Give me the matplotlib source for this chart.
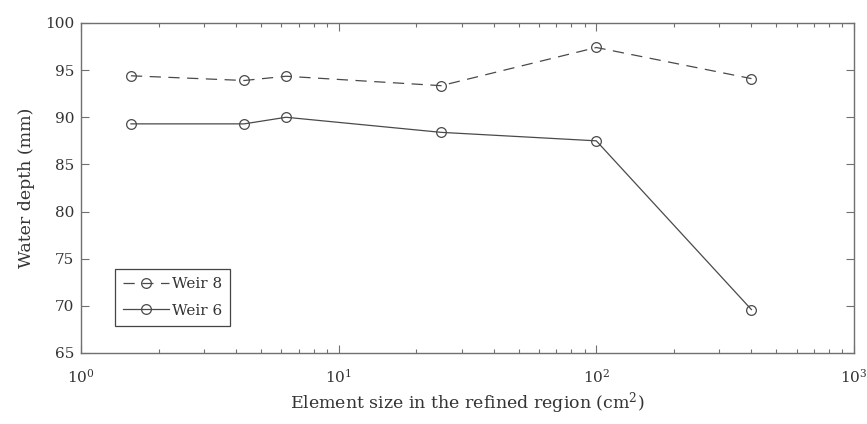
import numpy as np
import matplotlib.pyplot as plt

plt.rcParams['font.family'] = 'serif'
plt.rcParams['font.serif'] = ['DejaVu Serif']
plt.rcParams['mathtext.fontset'] = 'dejavuserif'
plt.rcParams['font.size'] = 11

# element size (cm^2) and water depth (mm)
element_size = [1.5625, 4.3, 6.25, 25, 100, 400]
weir8 = [94.4, 93.9, 94.35, 93.35, 97.4, 94.1]
weir6 = [89.3, 89.3, 90.0, 88.4, 87.5, 69.6]

line_col = '#4a4a4a'
axis_col = '#707070'
text_col = '#333333'

fig = plt.figure(figsize=(8.67, 4.24), dpi=100)
ax = fig.add_axes([0.0934, 0.1675, 0.8916, 0.7783])

ax.plot(element_size, weir8, color=line_col, lw=0.9, ls=(0, (9, 6)),
        marker='o', ms=7, mfc='none', mec=line_col, mew=0.9, label='Weir 8')
ax.plot(element_size, weir6, color=line_col, lw=0.9, ls='-',
        marker='o', ms=7, mfc='none', mec=line_col, mew=0.9, label='Weir 6')

ax.set_xscale('log')
ax.set_xlim(1, 1000)
ax.set_ylim(65, 100)
ax.set_yticks(np.arange(65, 101, 5))

ax.tick_params(which='both', direction='in', top=True, right=True,
               color=axis_col, labelcolor=text_col)
ax.tick_params(which='major', length=6, width=0.8)
ax.tick_params(which='minor', length=3, width=0.8)
ax.tick_params(axis='x', which='major', pad=11)
ax.tick_params(axis='y', which='major', pad=5)
for sp in ax.spines.values():
    sp.set_color(axis_col)
    sp.set_linewidth(1.0)

ax.set_xlabel('Element size in the refined region (cm$^2$)', color=text_col,
              fontsize=12.5, labelpad=3)
ax.set_ylabel('Water depth (mm)', color=text_col, fontsize=12.5, labelpad=7)

leg = ax.legend(loc='lower left', bbox_to_anchor=(0.044, 0.082), fancybox=False,
                edgecolor='#444444', framealpha=1, handlelength=3.0,
                handletextpad=0.15, borderpad=0.55, labelspacing=0.8,
                borderaxespad=0)
leg.get_frame().set_linewidth(0.9)
for t in leg.get_texts():
    t.set_color(text_col)

fig.savefig('out.png', dpi=100)
